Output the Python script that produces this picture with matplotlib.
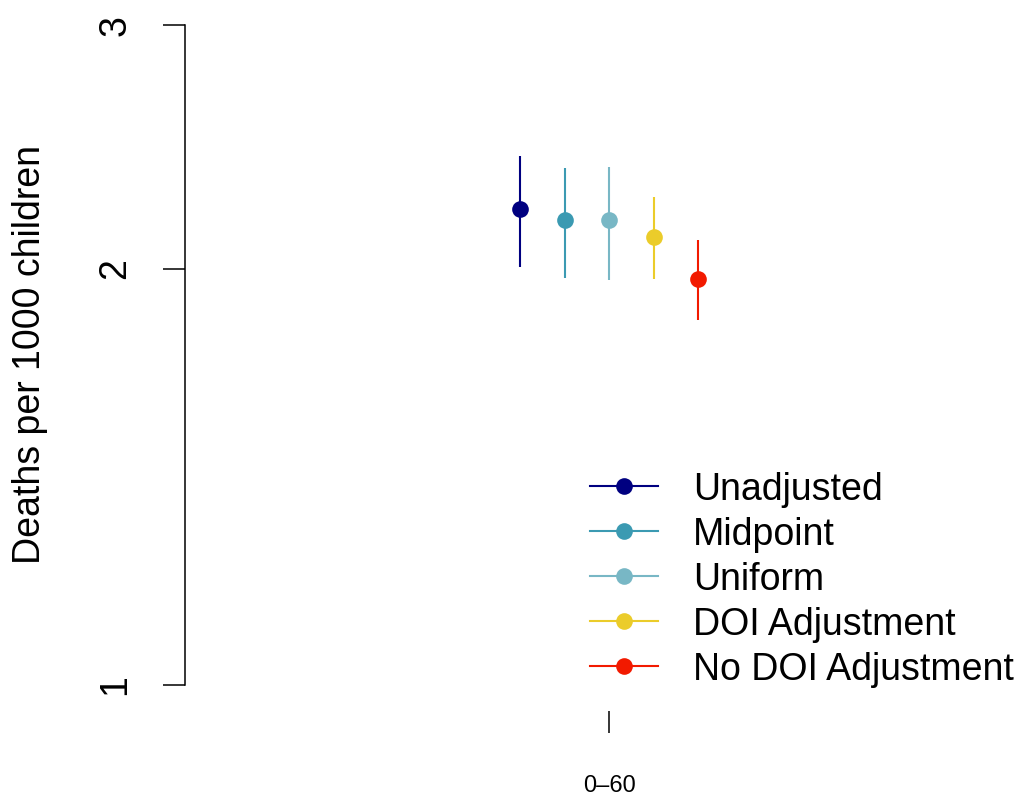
import numpy as np
import matplotlib
matplotlib.use("Agg")
import matplotlib.pyplot as plt
from matplotlib.lines import Line2D

plt.rcParams['font.family'] = ['Liberation Sans', 'DejaVu Sans']

# values (deaths per 1000 children, age group 0-60)
methods = ["Unadjusted", "Midpoint", "Uniform", "DOI Adjustment", "No DOI Adjustment"]
est = [2.21, 2.17, 2.17, 2.11, 1.965]
lower = [2.005, 1.968, 1.963, 1.966, 1.835]
upper = [2.415, 2.364, 2.37, 2.253, 2.097]
colors = ["#000080", "#3B9AB2", "#78B7C5", "#EBCC2A", "#F21A00"]
offsets = [-0.2, -0.1, 0.0, 0.1, 0.2]
group = "0\u201360"

fig = plt.figure(figsize=(10.21, 7.96), dpi=100)
ax = fig.add_axes([185 / 1021, 85 / 796, (1010 - 185) / 1021, 797 / 796 - 85 / 796])

for i in range(len(methods)):
    x = 1 + offsets[i]
    ax.plot([x, x], [lower[i], upper[i]], color=colors[i], lw=1.5, solid_capstyle='butt')
    ax.plot(x, est[i], 'o', color=colors[i], markersize=12, markeredgewidth=0)

# log scale, with R-style 4% padding
ax.set_yscale('log')
lo, hi = np.log10(1), np.log10(3)
ext = (hi - lo) * 0.04
ax.set_ylim(10 ** (lo - ext), 10 ** (hi + ext))
ax.set_xlim(1 - 424 / 445, 1 + 401 / 445)

ax.set_yticks([1, 2, 3])
ax.set_yticklabels(["1", "2", "3"], rotation=90, va='center', fontsize=27)
ax.yaxis.set_minor_locator(matplotlib.ticker.NullLocator())
ax.tick_params(axis='y', length=16, width=1.1, pad=21)

ax.set_xticks([1])
ax.set_xticklabels([group], fontsize=17)
ax.tick_params(axis='x', length=16, width=1.1, pad=30)

for s in ['top', 'right', 'bottom']:
    ax.spines[s].set_visible(False)
ax.spines['left'].set_bounds(1, 3)
ax.spines['left'].set_linewidth(1.1)

ax.set_ylabel("Deaths per 1000 children", fontsize=27, labelpad=36)

handles = [Line2D([], [], color=c, lw=1.5, marker='o', markersize=12, markeredgewidth=0) for c in colors]
ax.legend(handles, methods, loc='upper left', bbox_to_anchor=((590 - 185) / 825, (711 - 443) / 797),
          frameon=False, fontsize=27, handlelength=1.8, handletextpad=0.95,
          labelspacing=0.24, borderaxespad=0, borderpad=0)

fig.savefig("out.png", dpi=100)
